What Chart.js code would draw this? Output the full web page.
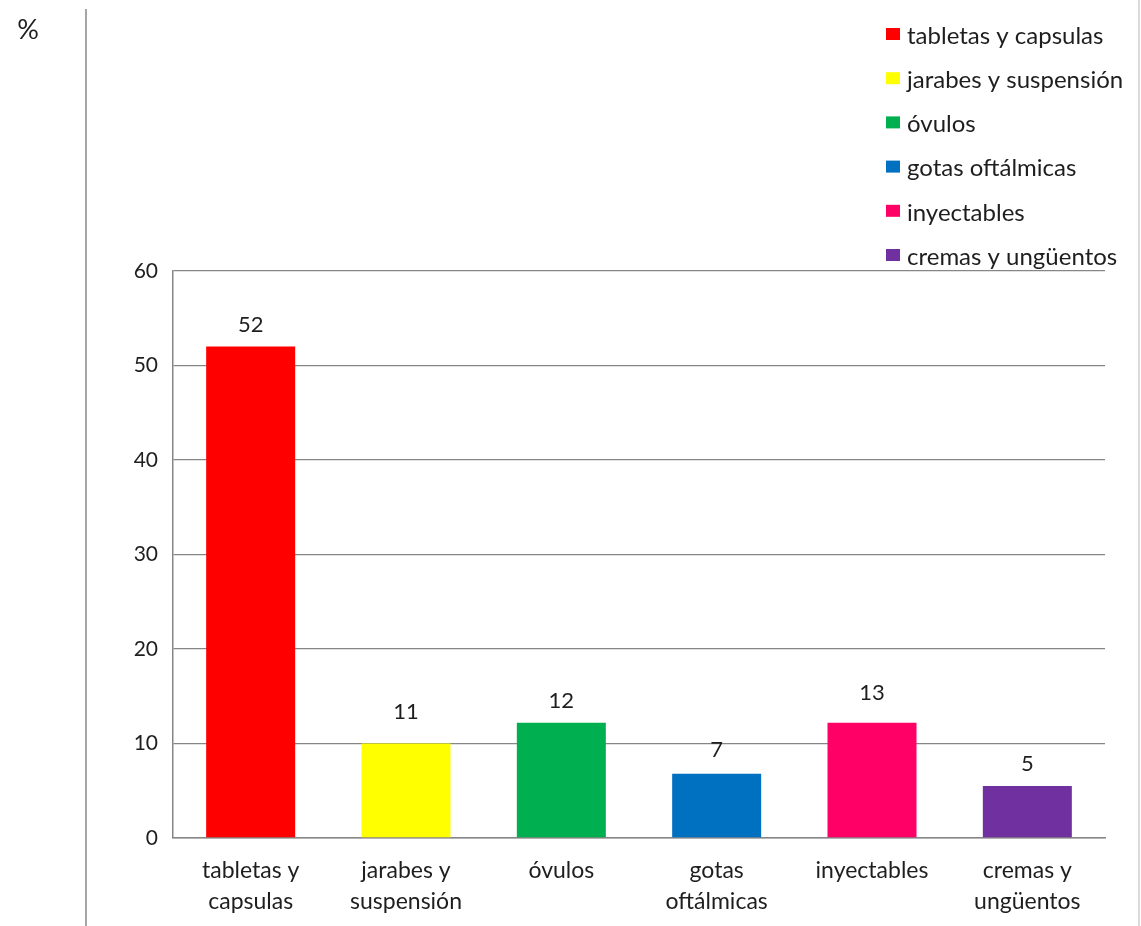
<!DOCTYPE html>
<html>
<head>
<meta charset="utf-8">
<script src="https://cdn.jsdelivr.net/npm/chart.js@4.4.1/dist/chart.umd.min.js"></script>
<style>
  html, body { margin: 0; padding: 0; background: #ffffff; }
  #wrap { width: 1141px; height: 926px; position: relative; }
</style>
</head>
<body>
<div id="wrap"><canvas id="c" width="1141" height="926"></canvas></div>
<script>
// ---- data ----
const categories = [
  ["tabletas y", "capsulas"],
  ["jarabes y", "suspensión"],
  ["óvulos"],
  ["gotas", "oftálmicas"],
  ["inyectables"],
  ["cremas y", "ungüentos"]
];
const legendLabels = [
  "tabletas y capsulas",
  "jarabes y suspensión",
  "óvulos",
  "gotas oftálmicas",
  "inyectables",
  "cremas y ungüentos"
];
const values = [52, 10, 12.2, 6.8, 12.2, 5.5];
const valueLabels = ["52", "11", "12", "7", "13", "5"];
const barColors = ["#FF0000", "#FFFF00", "#00B050", "#0070C0", "#FF0066", "#7030A0"];
const yTicks = [0, 10, 20, 30, 40, 50, 60];
const unitLabel = "%";

const FONT = "Lato, 'Open Sans', 'DejaVu Sans', sans-serif";
const TEXT = "#1e1e1e";

const extras = {
  id: 'extras',
  afterDraw(chart) {
    const ctx = chart.ctx;
    ctx.save();
    // frame lines
    ctx.strokeStyle = "#a6a6a6";
    ctx.lineWidth = 2;
    ctx.beginPath(); ctx.moveTo(86, 9); ctx.lineTo(86, 926); ctx.stroke();
    ctx.strokeStyle = "#cfcfcf";
    ctx.lineWidth = 1.5;
    ctx.beginPath(); ctx.moveTo(1139, 0); ctx.lineTo(1139, 926); ctx.stroke();

    // unit label
    ctx.fillStyle = TEXT;
    ctx.font = "27px " + FONT;
    ctx.textAlign = "center";
    ctx.textBaseline = "middle";
    ctx.fillText(unitLabel, 28, 30);

    // value labels, placed just above the labelled value on the y scale
    const meta = chart.getDatasetMeta(0);
    const yScale = chart.scales.y;
    ctx.font = "22px " + FONT;
    ctx.textAlign = "center";
    ctx.textBaseline = "middle";
    meta.data.forEach((bar, i) => {
      const yv = Math.min(yScale.getPixelForValue(Number(valueLabels[i])), bar.y);
      ctx.fillText(valueLabels[i], bar.x, yv - 22);
    });

    // legend
    ctx.font = "24px " + FONT;
    ctx.textAlign = "left";
    ctx.textBaseline = "middle";
    legendLabels.forEach((lab, i) => {
      const y = 37 + i * 44.2;
      ctx.fillStyle = barColors[i];
      ctx.fillRect(886, y - 9, 14, 12);
      ctx.fillStyle = TEXT;
      ctx.fillText(lab, 907, y - 1);
    });
    ctx.restore();
  }
};

new Chart(document.getElementById('c'), {
  type: 'bar',
  data: {
    labels: categories,
    datasets: [{
      label: "%",
      data: values,
      backgroundColor: barColors,
      borderWidth: 0,
      categoryPercentage: 1.0,
      barPercentage: 0.573
    }]
  },
  options: {
    responsive: false,
    animation: false,
    devicePixelRatio: 1,
    layout: { padding: { top: 271, right: 36, left: 0, bottom: 0 } },
    plugins: {
      legend: { display: false },
      tooltip: { enabled: false },
      title: { display: false }
    },
    scales: {
      x: {
        grid: { display: false, drawTicks: false },
        border: { display: true, color: "#868686", width: 1.5 },
        ticks: {
          color: TEXT,
          font: { family: FONT, size: 23, lineHeight: 1.35 },
          padding: 17,
          maxRotation: 0,
          autoSkip: false
        },
        afterFit(scale) { scale.height = 88; }
      },
      y: {
        min: 0,
        max: 60,
        afterBuildTicks(scale) { scale.ticks = yTicks.map(v => ({ value: v })); },
        grid: { color: "#868686", lineWidth: 1.3, drawTicks: false },
        border: { display: true, color: "#868686", width: 1.5 },
        ticks: {
          color: TEXT,
          font: { family: FONT, size: 21 },
          padding: 15
        },
        afterFit(scale) { scale.width = 173; }
      }
    }
  },
  plugins: [extras]
});
</script>
</body>
</html>
